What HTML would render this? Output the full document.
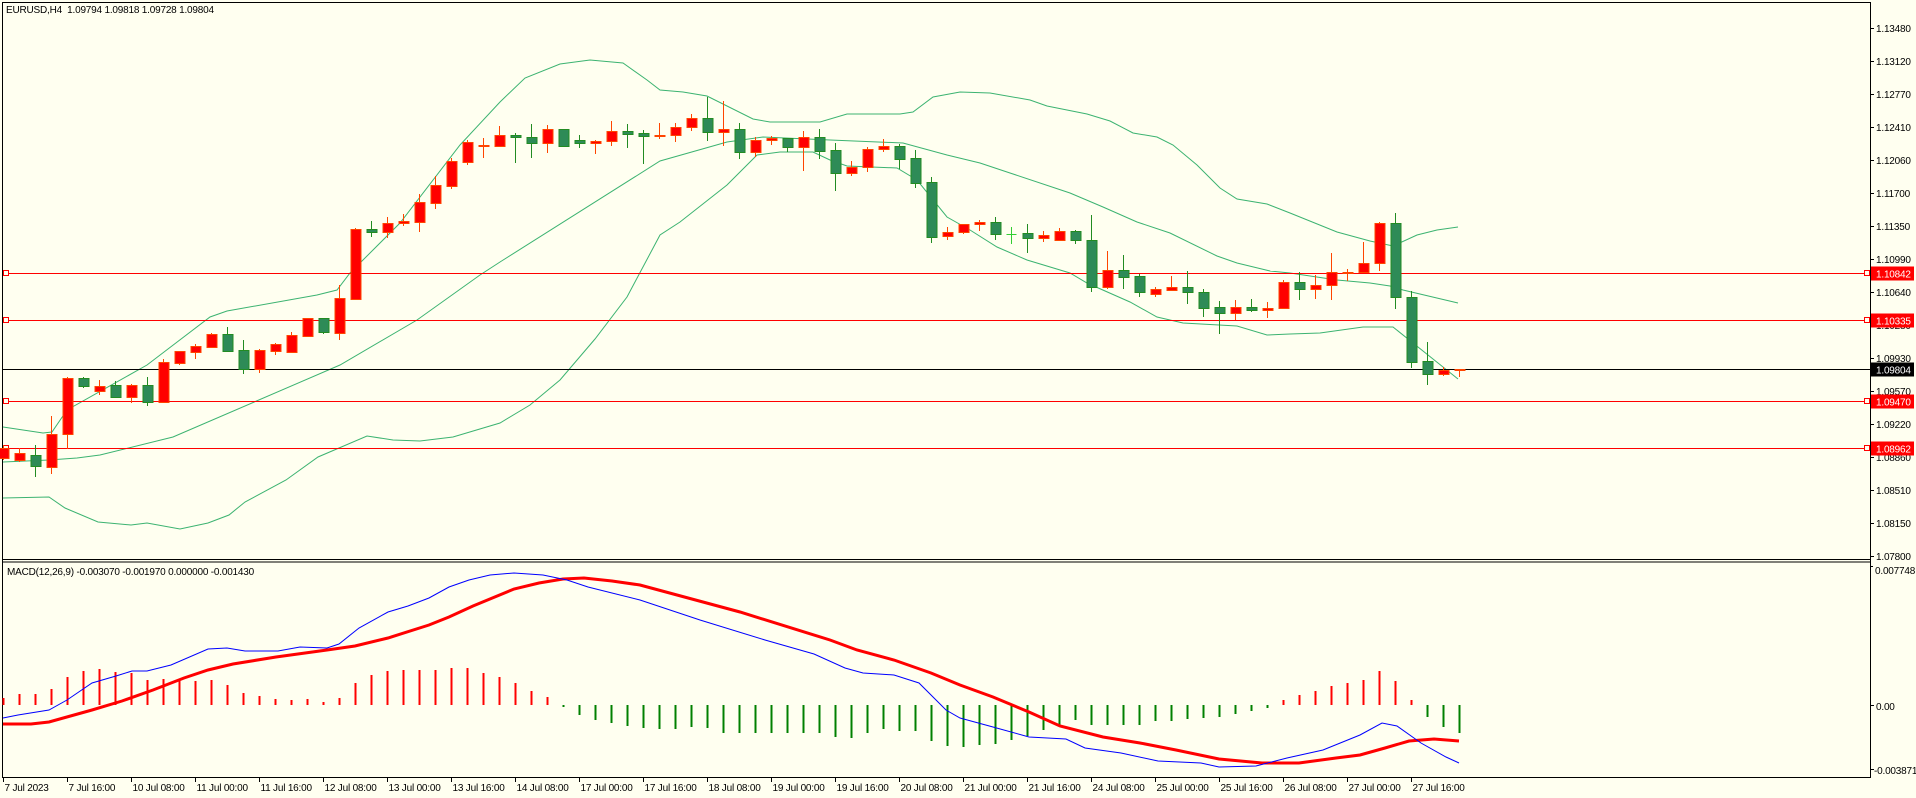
<!DOCTYPE html>
<html><head><meta charset="utf-8"><style>
html,body{margin:0;padding:0;background:#fffff0;}
svg{display:block;}
text{font-family:"Liberation Sans",sans-serif;font-size:10px;letter-spacing:-0.2px;}
</style></head><body>
<svg id="c" width="1916" height="798" xmlns="http://www.w3.org/2000/svg">
<rect x="0" y="0" width="1916" height="798" fill="#fffff0"/>
</svg>
<script>
var s=document.getElementById('c');var out='';
function L(x1,y1,x2,y2,c,w){out+='<line x1="'+x1+'" y1="'+y1+'" x2="'+x2+'" y2="'+y2+'" stroke="'+c+'" stroke-width="'+(w||1)+'"/>';}
function T(x,y,t,c,a){out+='<text x="'+x+'" y="'+y+'" fill="'+(c||'#000')+'"'+(a?' text-anchor="'+a+'"':'')+'>'+t+'</text>';}
function P(pts,c,w){out+='<polyline fill="none" stroke="'+c+'" stroke-width="'+(w||1)+'" points="'+pts.map(function(p){return p.join(',')}).join(' ')+'"/>';}
L(2.5,2,2.5,777,'#000');L(2,2.5,1870,2.5,'#000');L(1870.5,2,1870.5,778,'#000');
L(2,559.5,1870,559.5,'#000');L(2,562,1870,562,'#000');L(2,777.5,1870,777.5,'#000');
var up=[[3,427],[43,433],[52,432],[67,410],[147,365],[210,317],[227,311],[317,295],[337,290],[350,273],[400,223],[460,145],[500,102],[525,78],[560,64],[590,60],[623,63],[647,80],[660,90],[683,92],[707,96],[753,119],[770,122],[820,122],[847,114],[900,114],[913,112],[933,97],[960,92],[990,93],[1030,100],[1047,106],[1087,114],[1110,121],[1133,133],[1157,137],[1173,145],[1197,165],[1220,188],[1237,199],[1267,204],[1290,213],[1337,232],[1370,241],[1393,246],[1417,235],[1437,230],[1458,227]];
var mid=[[3,462],[49,460],[77,458],[100,455],[173,437],[340,365],[417,320],[480,275],[500,262],[660,161],[727,142],[763,137],[830,140],[903,143],[947,155],[980,163],[1010,173],[1070,193],[1103,207],[1137,222],[1170,233],[1217,256],[1237,263],[1270,271],[1290,273],[1337,280],[1370,283],[1390,286],[1403,290],[1458,303]];
var lo=[[3,498],[49,497],[65,508],[98,522],[131,525],[147,523],[180,529],[208,523],[229,515],[245,502],[286,480],[318,457],[367,436],[393,440],[420,441],[453,437],[500,423],[530,405],[560,380],[595,339],[627,297],[660,235],[680,222],[727,185],[757,155],[780,152],[813,152],[830,160],[847,166],[897,168],[917,180],[947,217],[970,230],[997,247],[1027,260],[1070,273],[1087,283],[1130,302],[1157,317],[1183,323],[1237,326],[1267,335],[1290,334],[1320,333],[1363,327],[1393,327],[1413,343],[1458,379]];
P(up,'#3cb371');P(mid,'#3cb371');P(lo,'#3cb371');
var lv=[[273.5,'1.10842'],[320.5,'1.10335'],[401.5,'1.09470'],[448.5,'1.08962']];
lv.forEach(function(l){L(3,l[0],1870,l[0],'#ff0000');out+='<rect x="3.5" y="'+(l[0]-3)+'" width="5" height="5" fill="#fffff0" stroke="#ff0000"/>';out+='<rect x="1864.5" y="'+(l[0]-3)+'" width="5" height="5" fill="#fffff0" stroke="#ff0000"/>';});
L(3,369.5,1870,369.5,'#000');
var tk=[[28,'1.13480'],[61,'1.13120'],[94,'1.12770'],[127,'1.12410'],[160,'1.12060'],[193,'1.11700'],[226,'1.11350'],[259,'1.10990'],[292,'1.10640'],[325,'1.10280'],[358,'1.09930'],[391,'1.09570'],[424,'1.09220'],[457,'1.08860'],[490,'1.08510'],[523,'1.08150'],[556,'1.07800']];
tk.forEach(function(t){L(1870,t[0]+0.5,1874,t[0]+0.5,'#000');T(1876,t[0]+4,t[1]);});
lv.forEach(function(l){out+='<rect x="1871" y="'+(l[0]-7)+'" width="43" height="14" fill="#ff0000"/>';T(1876,l[0]+4,l[1],'#fff');});
out+='<rect x="1871" y="362.5" width="43" height="14" fill="#000"/>';T(1876,373.5,'1.09804','#fff');
var C=[['r',448,458,445,460],['r',453,460,448,462],['g',455,466,445,477],['r',434,467,416,474],['r',378,434,377,449],['g',378,386,377,388],['r',386,391,380,395],['g',385,397,381,397],['r',385,397,384,403],['g',385,402,377,406],['r',362,402,359,402],['r',351,363,351,365],['r',346,352,344,359],['r',334,347,333,348],['g',334,351,327,351],['g',350,369,340,374],['r',350,369,349,373],['r',344,351,343,355],['r',335,352,332,352],['r',318,336,318,336],['g',318,332,318,334],['r',298,333,285,340],['r',229,299,228,300],['g',229,232,221,237],['r',223,232,217,238],['r',221,223,214,226],['r',202,222,194,232],['r',185,203,176,209],['r',161,186,158,189],['r',142,162,140,165],['r',145,145,138,158],['r',135,146,126,146],['g',135,137,133,163],['g',137,143,124,158],['r',129,143,125,153],['g',129,146,129,146],['g',140,143,135,148],['r',141,143,140,154],['r',131,141,121,146],['g',131,134,124,148],['g',133,136,130,164],['r',135,135,123,139],['r',127,135,123,142],['r',118,127,114,131],['g',118,132,97,141],['r',129,132,101,146],['g',129,152,123,159],['r',140,152,137,157],['r',138,140,136,145],['g',138,147,138,152],['r',137,147,131,171],['g',137,151,129,159],['g',150,173,143,191],['r',167,173,161,176],['r',149,167,147,172],['r',146,149,139,152],['g',146,159,144,169],['g',158,183,150,188],['g',182,237,177,243],['r',232,236,227,240],['r',224,232,224,234],['r',222,224,220,231],['g',222,234,217,240],['d',234,234,227,244],['g',233,238,224,253],['r',235,238,231,242],['r',231,240,228,240],['g',231,240,230,244],['g',240,287,215,292],['r',270,287,251,289],['g',270,277,255,289],['g',276,292,274,297],['r',289,294,287,297],['r',287,290,276,291],['g',287,292,271,304],['g',292,308,289,317],['g',307,313,301,334],['r',307,313,300,320],['g',307,310,299,312],['r',308,310,302,318],['r',282,308,280,309],['g',282,289,272,300],['r',285,289,275,299],['r',272,285,253,300],['r',272,273,269,281],['r',263,272,242,272],['r',223,263,222,271],['g',223,297,213,309],['g',297,362,291,368],['g',361,374,342,385],['r',370,374,367,376],['r',369,370,369,377]];
C.forEach(function(c,i){var x=3.5+16*i;var k=c[0];
 var wc=k=='r'?'#ff4500':(k=='g'?'#228b22':'#32cd32');
 L(x,c[3],x,c[4],wc);
 if(k=='d'){L(x-5,c[1]+0.5,x+5,c[1]+0.5,wc);return;}
 var h=Math.max(c[2]-c[1],1);
 out+='<rect x="'+(x-4.5)+'" y="'+(c[1]+0.5)+'" width="10" height="'+h+'" fill="'+(k=='r'?'#ff0000':'#2e8b57')+'" stroke="'+wc+'"/>';
});
T(6,13,'EURUSD,H4&#160;&#160;1.09794 1.09818 1.09728 1.09804');
var H=[698,694,694,689,677,671,669,672,673,680,679,681,681,680,685,693,696,699,700,699,702,698,683,675,671,670,670,670,668,668,673,677,683,691,697,707,715,720,723,726,728,729,729,727,728,733,733,733,733,733,733,733,737,738,733,729,731,731,741,746,747,745,744,740,736,730,725,720,725,725,725,725,721,721,719,718,717,714,711,708,700,695,691,686,683,680,671,681,700,717,727,733];
H.forEach(function(v,i){var x=3.5+16*i;L(x,705,x,v,v<705?'#ff0000':'#008000',2);});
var bl=[[3,718],[18,715],[49,710],[67,700],[92,683],[116,676],[132,671],[147,671],[171,665],[208,649],[227,648],[245,651],[278,651],[300,647],[327,648],[339,644],[359,628],[388,612],[408,606],[429,598],[449,587],[469,580],[490,575],[514,573],[543,575],[567,580],[588,587],[640,600],[700,620],[765,640],[814,654],[845,668],[863,673],[894,675],[919,683],[946,710],[960,718],[993,727],[1029,737],[1066,739],[1085,748],[1121,753],[1158,761],[1201,763],[1219,767],[1256,766],[1287,758],[1323,750],[1360,735],[1382,723],[1397,726],[1421,743],[1446,757],[1459,763]];
var rd=[[3,724],[31,724],[49,722],[92,710],[122,701],[153,690],[184,678],[208,670],[233,664],[276,657],[327,650],[355,646],[388,638],[429,625],[449,617],[473,606],[514,589],[539,583],[563,579],[584,578],[612,581],[640,585],[740,612],[830,640],[857,650],[894,660],[931,673],[960,685],[993,697],[1029,712],[1060,726],[1103,737],[1140,743],[1176,750],[1219,759],[1262,763],[1299,763],[1336,758],[1360,755],[1385,748],[1409,741],[1434,739],[1459,741]];
P(rd,'#ff0000',3);P(bl,'#0000ff',1);
T(7,575,'MACD(12,26,9) -0.003070 -0.001970 0.000000 -0.001430');
L(1870,566.5,1873,566.5,'#000');T(1875,574,'0.007748');
L(1870,705.5,1874,705.5,'#000');T(1876,710,'0.00');
L(1870,769.5,1874,769.5,'#000');T(1874,774,'-0.003871');
var tl=['7 Jul 2023','7 Jul 16:00','10 Jul 08:00','11 Jul 00:00','11 Jul 16:00','12 Jul 08:00','13 Jul 00:00','13 Jul 16:00','14 Jul 08:00','17 Jul 00:00','17 Jul 16:00','18 Jul 08:00','19 Jul 00:00','19 Jul 16:00','20 Jul 08:00','21 Jul 00:00','21 Jul 16:00','24 Jul 08:00','25 Jul 00:00','25 Jul 16:00','26 Jul 08:00','27 Jul 00:00','27 Jul 16:00'];
tl.forEach(function(t,j){var x=3.5+64*j;L(x,777,x,782,'#000');T(x+1,791,t);});
s.innerHTML+=out;
</script>
</body></html>
